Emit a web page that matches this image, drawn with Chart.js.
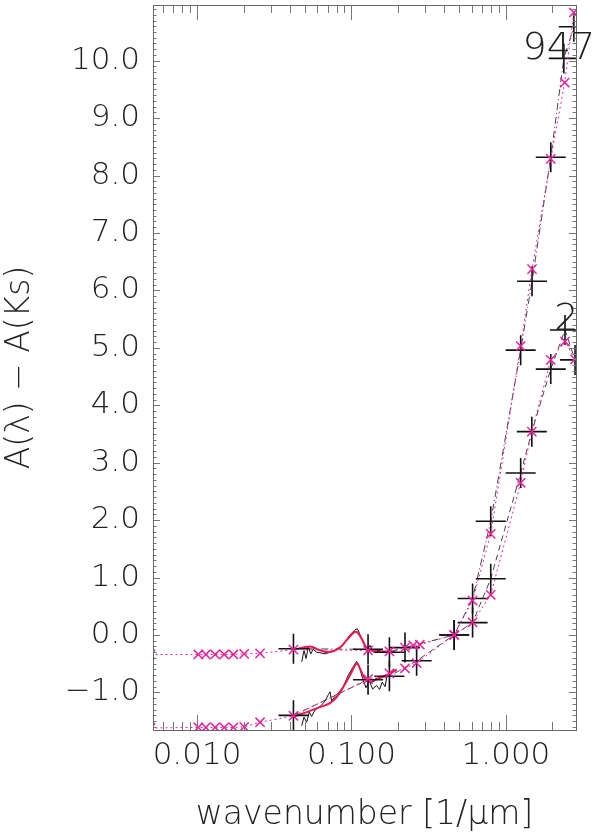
<!DOCTYPE html>
<html>
<head>
<meta charset="utf-8">
<script src="https://cdn.jsdelivr.net/npm/chart.js@4"></script>
<style>body{margin:0;background:#fff}</style>
</head>
<body>
<canvas id="myChart" width="600" height="833"></canvas>
<script>
// tick labels
const xTicks = [0.01, 0.1, 1];
const yTicks = [-1, 0, 1, 2, 3, 4, 5, 6, 7, 8, 9, 10];

// star 947 (upper curve): photometry
const obsX947 = [0.0421, 0.128, 0.176, 0.222, 0.462, 0.608, 0.797, 1.245, 1.475, 1.95, 2.37, 2.75];
const obsY947 = [-0.24, -0.25, -0.30, -0.22, 0.0, 0.635, 1.98, 4.96, 6.16, 8.32, 10.04, 10.59];
// star 947: model points
const modX947 = [0.005, 0.0102, 0.0114, 0.0131, 0.0150, 0.0172, 0.0202, 0.0256, 0.0421, 0.128, 0.176, 0.222, 0.251, 0.277, 0.462, 0.608, 0.797, 1.245, 1.475, 1.95, 2.40, 2.75];
const modY947 = [-0.34, -0.34, -0.34, -0.34, -0.34, -0.34, -0.33, -0.32, -0.255, -0.27, -0.285, -0.22, -0.18, -0.17, 0.0, 0.60, 1.76, 5.03, 6.37, 8.29, 9.62, 10.84];

// star 2 (lower curve): photometry
const obsX2 = [0.0421, 0.128, 0.176, 0.264, 0.462, 0.608, 0.797, 1.245, 1.47, 1.95, 2.41, 2.80];
const obsY2 = [-1.40, -0.78, -0.72, -0.45, 0.0, 0.215, 0.98, 2.82, 3.54, 4.63, 5.31, 4.79];
// star 2: model points
const modX2 = [0.005, 0.0102, 0.0114, 0.0131, 0.0150, 0.0172, 0.0202, 0.0256, 0.0421, 0.128, 0.176, 0.222, 0.264, 0.462, 0.608, 0.797, 1.245, 1.47, 1.95, 2.41, 2.80];
const modY2 = [-1.62, -1.61, -1.61, -1.61, -1.61, -1.61, -1.60, -1.52, -1.41, -0.77, -0.67, -0.58, -0.49, 0.0, 0.22, 0.70, 2.65, 3.54, 4.79, 5.11, 4.80];

// IRS spectra (black, noisy)
const specX947 = [0.0476, 0.0493, 0.0508, 0.0526, 0.0544, 0.0566, 0.0595, 0.0625, 0.0674, 0.0726, 0.0782, 0.0842, 0.0908, 0.0978, 0.1054, 0.1091, 0.1135, 0.1193, 0.1266, 0.1317, 0.1384, 0.1455, 0.152, 0.160, 0.170, 0.180, 0.190];
const specY947 = [-0.47, -0.27, -0.41, -0.20, -0.33, -0.25, -0.30, -0.31, -0.33, -0.30, -0.26, -0.21, -0.12, 0.0, 0.09, 0.11, 0.01, -0.14, -0.26, -0.18, -0.30, -0.27, -0.27, -0.31, -0.28, -0.30, -0.29];
const specX2 = [0.0476, 0.0493, 0.0513, 0.0533, 0.0552, 0.0580, 0.0610, 0.0641, 0.0674, 0.0708, 0.0726, 0.0744, 0.0782, 0.0822, 0.0885, 0.0954, 0.1028, 0.1080, 0.1124, 0.1181, 0.1241, 0.1304, 0.1371, 0.1455, 0.152, 0.158, 0.165, 0.170];
const specY2 = [-1.58, -1.43, -1.52, -1.34, -1.42, -1.31, -1.27, -1.22, -1.15, -1.04, -0.99, -1.15, -1.07, -1.01, -0.90, -0.70, -0.55, -0.46, -0.55, -0.76, -0.92, -0.80, -0.94, -0.88, -0.95, -0.82, -0.90, -0.70];

// smooth model spectra (red)
const fitX947 = [0.0424, 0.0539, 0.0625, 0.0726, 0.0842, 0.0930, 0.1028, 0.1080, 0.1163, 0.1266, 0.1384, 0.161, 0.191];
const fitY947 = [-0.255, -0.20, -0.267, -0.296, -0.22, -0.09, 0.036, 0.053, -0.064, -0.238, -0.279, -0.29, -0.29];
const fitX2 = [0.0424, 0.0513, 0.0625, 0.0726, 0.0802, 0.0885, 0.0978, 0.1054, 0.1091, 0.1135, 0.1223, 0.1317, 0.1455, 0.176, 0.196];
const fitY2 = [-1.42, -1.343, -1.256, -1.187, -1.082, -0.907, -0.703, -0.529, -0.50, -0.587, -0.762, -0.82, -0.77, -0.68, -0.60];

// star labels
const starNames = ['947', '2'];
const starLabelX = [1.28, 2.05];
const starLabelY = [10.03, 5.31];

const FONT = 'DejaVu Sans';
const WEIGHT = 200;
const magenta = '#e6239b';

function pts(xs, ys) { return xs.map((x, i) => ({x: x, y: ys[i]})); }

const frame = {
  id: 'frame',
  afterDraw(chart) {
    const ctx = chart.ctx, a = chart.chartArea;
    const xs = chart.scales.x, ys = chart.scales.y;
    ctx.save();
    ctx.strokeStyle = '#777';
    ctx.lineWidth = 1;
    ctx.beginPath();
    for (let d = -3; d <= 0; d++) {
      for (let k = 1; k <= 9; k++) {
        const v = k * Math.pow(10, d);
        if (v < xs.min || v > xs.max) continue;
        const px = Math.round(xs.getPixelForValue(v)) + 0.5;
        const len = k === 1 ? 15 : 8;
        ctx.moveTo(px, a.bottom); ctx.lineTo(px, a.bottom - len);
        ctx.moveTo(px, a.top); ctx.lineTo(px, a.top + len);
      }
    }
    for (let i = Math.ceil(ys.min * 10); i <= Math.floor(ys.max * 10); i++) {
      const py = Math.round(ys.getPixelForValue(i / 10)) + 0.5;
      const len = i % 10 === 0 ? 7 : 3.5;
      ctx.moveTo(a.left, py); ctx.lineTo(a.left + len, py);
      ctx.moveTo(a.right, py); ctx.lineTo(a.right - len, py);
    }
    ctx.stroke();
    ctx.strokeStyle = '#666';
    ctx.strokeRect(Math.round(a.left) + 0.5, Math.round(a.top) + 0.5, Math.round(a.right - a.left), Math.round(a.bottom - a.top));
    ctx.fillStyle = '#222';
    ctx.font = WEIGHT + ' 38px "' + FONT + '"';
    ctx.textAlign = 'left';
    ctx.textBaseline = 'alphabetic';
    starNames.forEach((s, i) => {
      ctx.fillText(s, xs.getPixelForValue(starLabelX[i]), ys.getPixelForValue(starLabelY[i]));
    });
    ctx.restore();
  }
};

const ctx = document.getElementById('myChart');
new Chart(ctx, {
  type: 'scatter',
  data: {
    datasets: [
      // model points + dotted line
      {data: pts(modX947, modY947), showLine: true, borderColor: magenta, borderWidth: 1, borderDash: [2, 3],
       pointStyle: 'crossRot', pointRadius: 6.5, pointBorderColor: magenta, pointBorderWidth: 1.5, order: 1},
      {data: pts(modX2, modY2), showLine: true, borderColor: magenta, borderWidth: 1, borderDash: [2, 3],
       pointStyle: 'crossRot', pointRadius: 6.5, pointBorderColor: magenta, pointBorderWidth: 1.5, order: 1},
      // photometry crosses
      {data: pts(obsX947, obsY947), showLine: false, pointStyle: 'cross', pointRadius: 15, pointBorderColor: '#111', pointBorderWidth: 1.6, order: 2},
      {data: pts(obsX2, obsY2), showLine: false, pointStyle: 'cross', pointRadius: 15, pointBorderColor: '#111', pointBorderWidth: 1.6, order: 2},
      // red smooth spectra
      {data: pts(fitX947, fitY947), showLine: true, borderColor: '#e8194f', borderWidth: 2, pointRadius: 0, tension: 0.4, order: 3},
      {data: pts(fitX2, fitY2), showLine: true, borderColor: '#e8194f', borderWidth: 2, pointRadius: 0, tension: 0.4, order: 3},
      // noisy spectra
      {data: pts(specX947, specY947), showLine: true, borderColor: '#111', borderWidth: 1, pointRadius: 0, order: 4},
      {data: pts(specX2, specY2), showLine: true, borderColor: '#111', borderWidth: 1, pointRadius: 0, order: 4},
      // dashed lines through photometry
      {data: pts(obsX947, obsY947), showLine: true, borderColor: '#444', borderWidth: 1, borderDash: [7, 3, 1, 3], pointRadius: 0, order: 5},
      {data: pts(obsX2, obsY2), showLine: true, borderColor: '#444', borderWidth: 1, borderDash: [6, 4], pointRadius: 0, order: 5}
    ]
  },
  options: {
    responsive: false,
    animation: false,
    events: [],
    layout: {autoPadding: false, padding: {top: 5, right: 24, left: 0, bottom: 0}},
    plugins: {legend: {display: false}, tooltip: {enabled: false}},
    scales: {
      x: {
        type: 'logarithmic',
        min: 0.00519,
        max: 2.84,
        afterBuildTicks: s => { s.ticks = xTicks.map(v => ({value: v})); },
        afterFit: s => { s.height = 103; s.paddingLeft = 0; s.paddingRight = 0; },
        grid: {display: false, drawTicks: false},
        border: {display: false},
        ticks: {autoSkip: false, maxRotation: 0, padding: 7, color: '#222', font: {family: FONT, size: 31, weight: WEIGHT},
                callback: v => Number(v).toFixed(3)},
        title: {display: true, text: 'wavenumber [1/μm]', color: '#222', font: {family: FONT, size: 33, weight: WEIGHT, lineHeight: 1.0}, padding: {top: 0, bottom: 1}}
      },
      y: {
        min: -1.655,
        max: 10.97,
        afterBuildTicks: s => { s.ticks = yTicks.map(v => ({value: v})); },
        afterFit: s => { s.width = 153; s.paddingTop = 0; s.paddingBottom = 0; },
        grid: {display: false, drawTicks: false},
        border: {display: false},
        ticks: {padding: 13, color: '#222', font: {family: FONT, size: 31, weight: WEIGHT},
                callback: v => (v < 0 ? '−' : '') + Math.abs(v).toFixed(1)},
        title: {display: true, text: 'A(λ) − A(Ks)', color: '#222', font: {family: FONT, size: 33, weight: WEIGHT}, padding: {top: 1, bottom: 0}}
      }
    }
  },
  plugins: [frame]
});
</script>
</body>
</html>
